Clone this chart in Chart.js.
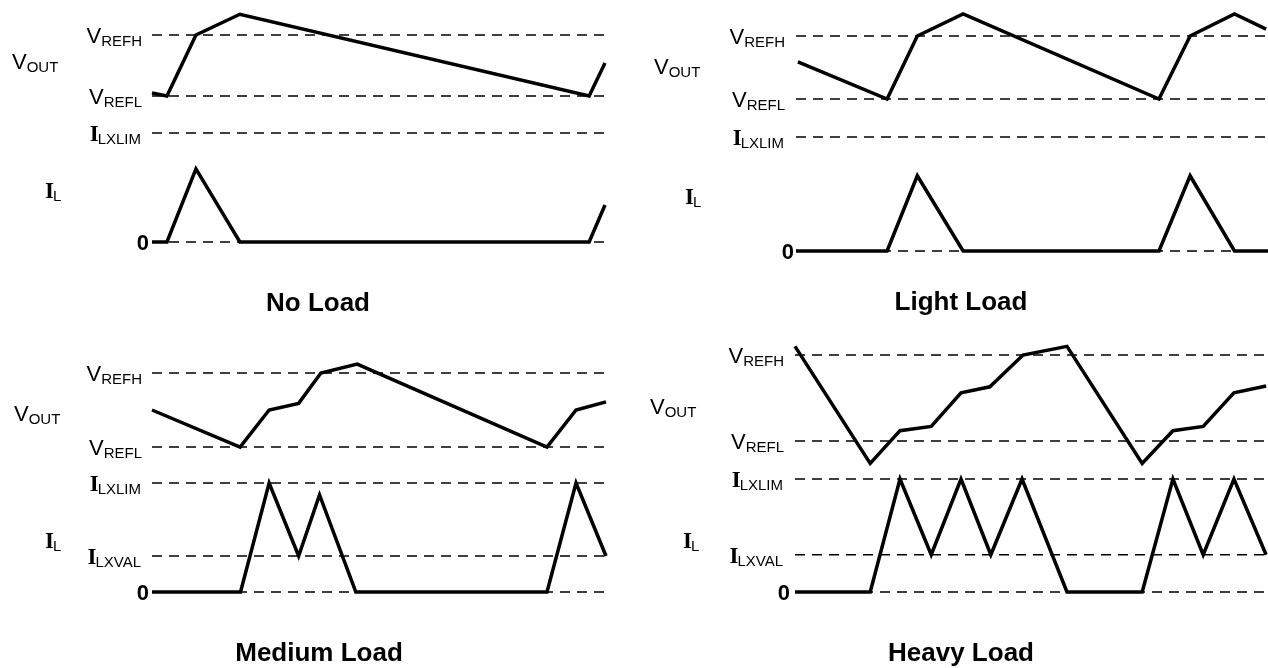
<!DOCTYPE html>
<html>
<head>
<meta charset="utf-8">
<title>Operating modes by load</title>
<script src="https://cdn.jsdelivr.net/npm/chart.js@4.4.0/dist/chart.umd.min.js"></script>
<style>
    body { margin: 0; background: #fff; }
    .panel { position: absolute; width: 634px; height: 334px; }
</style>
</head>
<body>
<div class="panel" style="left:0;top:0"><canvas id="noLoad" width="634" height="334"></canvas></div>
<div class="panel" style="left:634px;top:0"><canvas id="lightLoad" width="634" height="334"></canvas></div>
<div class="panel" style="left:0;top:334px"><canvas id="mediumLoad" width="634" height="334"></canvas></div>
<div class="panel" style="left:634px;top:334px"><canvas id="heavyLoad" width="634" height="334"></canvas></div>
<script>
// time runs 0..100 along the dashed lines of each panel
// V_OUT is in units where VREFL = 0 and VREFH = 1
// I_L is in units where 0 = 0 and ILXLIM = 1

const panelTitles = ['No Load', 'Light Load', 'Medium Load', 'Heavy Load'];

const noLoadVoutT = [0, 3.3, 9.7, 19.4, 96.5, 100];
const noLoadVout  = [0.05, 0, 1, 1.34, 0, 0.54];
const noLoadIlT   = [0, 3.3, 9.7, 19.4, 96.5, 100];
const noLoadIl    = [0, 0, 0.67, 0, 0, 0.34];

const lightVoutT = [0.4, 19.3, 25.7, 35.4, 76.9, 83.5, 92.9, 99.6];
const lightVout  = [0.59, 0, 1, 1.35, 0, 1, 1.35, 1.11];
const lightIlT   = [0, 19.3, 25.7, 35.4, 76.9, 83.5, 92.9, 100];
const lightIl    = [0, 0, 0.66, 0, 0, 0.66, 0, 0];

const mediumVoutT = [0, 19.4, 25.8, 32.3, 37.2, 45.2, 87.0, 93.4, 100];
const mediumVout  = [0.5, 0, 0.5, 0.59, 1, 1.12, 0, 0.5, 0.61];
const mediumIlT   = [0, 19.5, 25.8, 32.3, 36.9, 44.9, 87.0, 93.4, 100];
const mediumIl    = [0, 0, 1, 0.33, 0.89, 0, 0, 1, 0.33];

const heavyVoutT = [0, 15.9, 22.2, 28.8, 35.1, 41.2, 48.2, 57.5, 73.4, 79.9, 86.3, 92.8, 99.6];
const heavyVout  = [1.10, -0.26, 0.12, 0.17, 0.56, 0.63, 1, 1.10, -0.26, 0.12, 0.17, 0.56, 0.64];
const heavyIlT   = [0, 15.9, 22.2, 28.8, 35.1, 41.4, 48.0, 57.5, 73.4, 79.9, 86.3, 92.8, 99.6];
const heavyIl    = [0, 0, 1, 0.33, 1, 0.33, 1, 0, 0, 1, 0.33, 1, 0.33];

// reference levels (dashed lines)
const vRefValues = [1, 0];
const vRefNames  = ['REFH', 'REFL'];
const iRefValuesLow  = [1, 0];
const iRefNamesLow   = ['LXLIM', '0'];
const iRefValuesHigh = [1, 0.33, 0];
const iRefNamesHigh  = ['LXLIM', 'LXVAL', '0'];

// where things sit on each canvas (pixels)
const layouts = [
    { id: 'noLoad', xStart: 152, xEnd: 605, vHigh: 35, vLow: 96, iHigh: 133, iLow: 242,
      labelRight: 142, zeroRight: 149, voutX: 12, voutY: 61, ilX: 45, ilY: 190, titleX: 318, titleY: 311 },
    { id: 'lightLoad', xStart: 162, xEnd: 634, vHigh: 36, vLow: 99, iHigh: 137, iLow: 251,
      labelRight: 151, zeroRight: 160, voutX: 20, voutY: 66, ilX: 51, ilY: 196, titleX: 327, titleY: 310 },
    { id: 'mediumLoad', xStart: 152, xEnd: 606, vHigh: 39, vLow: 113, iHigh: 149, iLow: 258,
      labelRight: 142, zeroRight: 149, voutX: 14, voutY: 79, ilX: 45, ilY: 206, titleX: 319, titleY: 327 },
    { id: 'heavyLoad', xStart: 161, xEnd: 634, vHigh: 21, vLow: 107, iHigh: 145, iLow: 258,
      labelRight: 150, zeroRight: 156, voutX: 16, voutY: 72, ilX: 49, ilY: 206, titleX: 327, titleY: 327 }
];

const W = 634, H = 334;
const SANS = '"Liberation Sans", Arial, Helvetica, sans-serif';
const SERIF = '"Liberation Serif", "Times New Roman", serif';

// axis range so that value hi lands on pixel pxHi and lo on pxLo
function rangeFor(pxHi, pxLo, hi, lo, size) {
    const k = (pxLo - pxHi) / (hi - lo);
    return { min: lo - (size - pxLo) / k, max: hi + pxHi / k };
}

function toPoints(xs, ys) {
    return xs.map((x, i) => ({ x: x, y: ys[i] }));
}

// main letter with its cap centred on y, followed by a subscript
function drawSymbol(ctx, main, sub, x, y, align) {
    const serifI = main === 'I';
    const mainFont = serifI ? 'bold 23px ' + SERIF : '22px ' + SANS;
    const subFont = '15px ' + SANS;
    ctx.font = mainFont;
    const mw = ctx.measureText(main).width;
    ctx.font = subFont;
    const sw = sub ? ctx.measureText(sub).width : 0;
    let left = align === 'right' ? x - mw - sw : x;
    ctx.textAlign = 'left';
    ctx.textBaseline = 'alphabetic';
    ctx.font = mainFont;
    ctx.fillText(main, left, y + 8);
    if (sub) {
        ctx.font = subFont;
        ctx.fillText(sub, left + mw - (serifI ? 1 : 0), y + 11);
    }
}

function labelPlugin(idx, lay, iValues, iNames) {
    return {
        id: 'labels' + idx,
        afterDraw(chart) {
            const ctx = chart.ctx;
            const yV = chart.scales.yV, yI = chart.scales.yI;
            ctx.save();
            ctx.fillStyle = '#000';
            vRefValues.forEach((v, i) => {
                drawSymbol(ctx, 'V', vRefNames[i], lay.labelRight, yV.getPixelForValue(v), 'right');
            });
            iValues.forEach((v, i) => {
                const y = yI.getPixelForValue(v);
                if (iNames[i] === '0') {
                    ctx.font = 'bold 22px ' + SANS;
                    ctx.textAlign = 'right';
                    ctx.textBaseline = 'alphabetic';
                    ctx.fillText('0', lay.zeroRight, y + 8);
                } else {
                    drawSymbol(ctx, 'I', iNames[i], lay.labelRight, y, 'right');
                }
            });
            drawSymbol(ctx, 'V', 'OUT', lay.voutX, lay.voutY, 'left');
            drawSymbol(ctx, 'I', 'L', lay.ilX, lay.ilY, 'left');

            ctx.font = 'bold 26px ' + SANS;
            ctx.textAlign = 'center';
            ctx.textBaseline = 'alphabetic';
            ctx.fillText(panelTitles[idx], lay.titleX, lay.titleY);
            ctx.restore();
        }
    };
}

function makePanel(idx, voutT, vout, ilT, il, iValues, iNames) {
    const lay = layouts[idx];
    const xr = rangeFor(lay.xStart, lay.xEnd, 0, 100, W);
    // x grows to the right, so flip the helper's top/bottom logic
    const k = (lay.xEnd - lay.xStart) / 100;
    const xRange = { min: -lay.xStart / k, max: 100 + (W - lay.xEnd) / k };
    const vr = rangeFor(lay.vHigh, lay.vLow, 1, 0, H);
    const ir = rangeFor(lay.iHigh, lay.iLow, 1, 0, H);

    const datasets = [];
    vRefValues.forEach(v => {
        datasets.push({ data: toPoints([0, 100], [v, v]), yAxisID: 'yV',
            borderColor: '#000', borderWidth: 1.6, borderDash: [10, 7] });
    });
    iValues.forEach(v => {
        datasets.push({ data: toPoints([0, 100], [v, v]), yAxisID: 'yI',
            borderColor: '#000', borderWidth: 1.6, borderDash: [10, 7] });
    });
    datasets.push({ data: toPoints(voutT, vout), yAxisID: 'yV',
        borderColor: '#000', borderWidth: 3.5, borderJoinStyle: 'miter' });
    datasets.push({ data: toPoints(ilT, il), yAxisID: 'yI',
        borderColor: '#000', borderWidth: 3.5, borderJoinStyle: 'miter' });

    new Chart(document.getElementById(lay.id), {
        type: 'line',
        data: { datasets: datasets },
        options: {
            responsive: false,
            animation: false,
            layout: { padding: 0 },
            elements: { point: { radius: 0 }, line: { tension: 0 } },
            scales: {
                x: { type: 'linear', display: false, min: xRange.min, max: xRange.max },
                yV: { type: 'linear', display: false, min: vr.min, max: vr.max },
                yI: { type: 'linear', display: false, min: ir.min, max: ir.max }
            },
            plugins: { legend: { display: false }, tooltip: { enabled: false } }
        },
        plugins: [labelPlugin(idx, lay, iValues, iNames)]
    });
}

makePanel(0, noLoadVoutT, noLoadVout, noLoadIlT, noLoadIl, iRefValuesLow, iRefNamesLow);
makePanel(1, lightVoutT, lightVout, lightIlT, lightIl, iRefValuesLow, iRefNamesLow);
makePanel(2, mediumVoutT, mediumVout, mediumIlT, mediumIl, iRefValuesHigh, iRefNamesHigh);
makePanel(3, heavyVoutT, heavyVout, heavyIlT, heavyIl, iRefValuesHigh, iRefNamesHigh);
</script>
</body>
</html>
